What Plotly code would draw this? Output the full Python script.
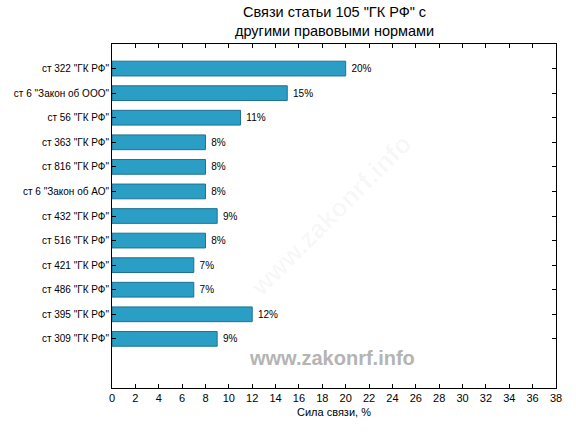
import plotly.graph_objects as go

categories = ['ст 322 "ГК РФ"', 'ст 6 "Закон об ООО"', 'ст 56 "ГК РФ"', 'ст 363 "ГК РФ"',
              'ст 816 "ГК РФ"', 'ст 6 "Закон об АО"', 'ст 432 "ГК РФ"', 'ст 516 "ГК РФ"',
              'ст 421 "ГК РФ"', 'ст 486 "ГК РФ"', 'ст 395 "ГК РФ"', 'ст 309 "ГК РФ"']
values = [20, 15, 11, 8, 8, 8, 9, 8, 7, 7, 12, 9]
labels = [f" {v}%" for v in values]
x_ticks = list(range(0, 39, 2))

font = "Liberation Sans, Arial, sans-serif"

fig = go.Figure()
fig.add_trace(go.Bar(
    x=values, y=categories, orientation="h", width=0.6,
    marker=dict(color="#2A9EC4", line=dict(color="#1D7390", width=1)),
    text=labels, textposition="outside", cliponaxis=False, constraintext="none",
    textfont=dict(family=font, size=10, color="black"),
))

fig.update_layout(
    width=576, height=432,
    margin=dict(l=112, r=20, t=44, b=44),
    paper_bgcolor="white", plot_bgcolor="white",
    showlegend=False,
    xaxis=dict(range=[0, 38], tickvals=x_ticks, ticks="inside", ticklen=4,
               tickcolor="black", showline=True, linecolor="black", linewidth=1,
               mirror="allticks", showgrid=False, zeroline=False,
               tickfont=dict(family=font, size=11, color="black"),
               title=dict(text="Сила связи, %", font=dict(family=font, size=11, color="black"),
                          standoff=5)),
    yaxis=dict(categoryorder="array", categoryarray=categories[::-1],
               range=[-2, 12], ticks="inside", ticklen=4, tickcolor="black",
               showline=True, linecolor="black", linewidth=1, mirror="allticks",
               showgrid=False, zeroline=False,
               tickfont=dict(family=font, size=10, color="black")),
    bargap=0.4,
)

fig.add_annotation(text="Связи статьи 105 \"ГК РФ\" с<br>другими правовыми нормами",
                   xref="paper", yref="paper", x=0.5, y=1, yanchor="bottom",
                   yshift=3, showarrow=False,
                   font=dict(family=font, size=14.5, color="black"))
fig.add_annotation(text="<b>www.zakonrf.info</b>", xref="paper", yref="paper",
                   x=0.496, y=0.05, showarrow=False,
                   font=dict(family=font, size=20, color="#B4B4B4"))
fig.add_annotation(text="<b>www.zakonrf.info</b>", xref="paper", yref="paper",
                   x=0.496, y=0.975, showarrow=False,
                   font=dict(family=font, size=20, color="rgba(0,0,0,0.018)"))
fig.add_annotation(text="<b>www.zakonrf.info</b>", xref="paper", yref="paper",
                   x=0.493, y=0.503, showarrow=False, textangle=-45,
                   font=dict(family=font, size=26, color="rgba(0,0,0,0.035)"))

fig.write_html("out.html", config={"displayModeBar": False},
               post_script="document.body.style.margin='0';")
